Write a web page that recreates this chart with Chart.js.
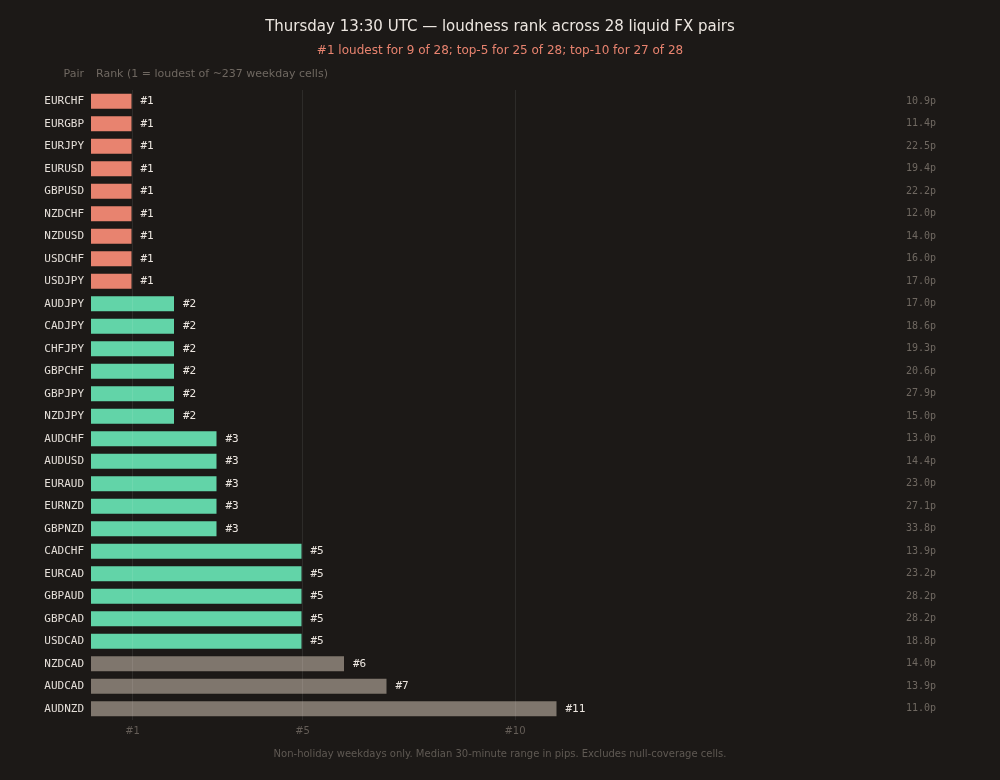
<!DOCTYPE html>
<html>
<head>
<meta charset="utf-8">
<script src="https://cdn.jsdelivr.net/npm/chart.js@4/dist/chart.umd.min.js"></script>
<style>
  html, body { margin: 0; padding: 0; background: #1c1917; }
  #wrap { width: 1000px; height: 780px; }
</style>
</head>
<body>
<div id="wrap"><canvas id="rankChart" width="1000" height="780"></canvas></div>
<script>
// Pairs in display order (top to bottom)
const pairs = [
  'EURCHF', 'EURGBP', 'EURJPY', 'EURUSD', 'GBPUSD', 'NZDCHF', 'NZDUSD', 'USDCHF', 'USDJPY',
  'AUDJPY', 'CADJPY', 'CHFJPY', 'GBPCHF', 'GBPJPY', 'NZDJPY',
  'AUDCHF', 'AUDUSD', 'EURAUD', 'EURNZD', 'GBPNZD',
  'CADCHF', 'EURCAD', 'GBPAUD', 'GBPCAD', 'USDCAD',
  'NZDCAD', 'AUDCAD', 'AUDNZD'
];

// Loudness rank at Thursday 13:30 UTC (1 = loudest)
const ranks = [
  1, 1, 1, 1, 1, 1, 1, 1, 1,
  2, 2, 2, 2, 2, 2,
  3, 3, 3, 3, 3,
  5, 5, 5, 5, 5,
  6, 7, 11
];

// Median 30-minute range in pips
const medianPips = [
  10.9, 11.4, 22.5, 19.4, 22.2, 12.0, 14.0, 16.0, 17.0,
  17.0, 18.6, 19.3, 20.6, 27.9, 15.0,
  13.0, 14.4, 23.0, 27.1, 33.8,
  13.9, 23.2, 28.2, 28.2, 18.8,
  14.0, 13.9, 11.0
];

const xTicks = [1, 5, 10];

const BG = '#1c1917';
const colorFor = (r) => r === 1 ? '#e8836f' : (r <= 5 ? '#62d4a8' : '#7f766d');

// Texts drawn around the plot (title, header, right column, footer)
const decorPlugin = {
  id: 'decor',
  beforeDraw(chart) {
    const ctx = chart.ctx;
    ctx.save();
    ctx.fillStyle = BG;
    ctx.fillRect(0, 0, chart.width, chart.height);
    ctx.restore();
  },
  afterDraw(chart) {
    const ctx = chart.ctx;
    const yScale = chart.scales.y;
    const xScale = chart.scales.x;
    ctx.save();
    ctx.textBaseline = 'middle';

    // title + subtitle
    ctx.textAlign = 'center';
    ctx.fillStyle = '#ece6e0';
    ctx.font = '15px "DejaVu Sans"';
    ctx.fillText('Thursday 13:30 UTC \u2014 loudness rank across 28 liquid FX pairs', 500, 27);
    ctx.fillStyle = '#e8836f';
    ctx.font = '12px "DejaVu Sans"';
    ctx.fillText('#1 loudest for 9 of 28; top-5 for 25 of 28; top-10 for 27 of 28', 500, 51);

    // column header
    ctx.fillStyle = '#6f6861';
    ctx.font = '11px "DejaVu Sans"';
    ctx.textAlign = 'right';
    ctx.fillText('Pair', 84, 74);
    ctx.textAlign = 'left';
    ctx.fillText('Rank (1 = loudest of ~237 weekday cells)', 96, 74);

    // rank labels at bar ends
    ctx.fillStyle = '#ece6e0';
    ctx.font = '11px "DejaVu Sans Mono"';
    ranks.forEach((r, i) => {
      ctx.fillText('#' + r, xScale.getPixelForValue(r) + 8, yScale.getPixelForValue(i));
    });

    // median pips column
    ctx.textAlign = 'right';
    ctx.fillStyle = '#6f6861';
    ctx.font = '10px "DejaVu Sans Mono"';
    medianPips.forEach((p, i) => {
      ctx.fillText(p.toFixed(1) + 'p', 936, yScale.getPixelForValue(i));
    });

    // footer
    ctx.textAlign = 'center';
    ctx.fillStyle = '#5f5953';
    ctx.font = '10px "DejaVu Sans"';
    ctx.fillText('Non-holiday weekdays only. Median 30-minute range in pips. Excludes null-coverage cells.', 500, 754);
    ctx.restore();
  }
};

new Chart(document.getElementById('rankChart'), {
  type: 'bar',
  data: {
    labels: pairs,
    datasets: [{
      data: ranks,
      backgroundColor: ranks.map(colorFor),
      borderColor: 'rgba(28, 25, 23, 0.45)',
      borderWidth: 1,
      borderSkipped: false,
      categoryPercentage: 0.76,
      barPercentage: 1.0
    }]
  },
  options: {
    indexAxis: 'y',
    responsive: false,
    animation: false,
    devicePixelRatio: 1,
    layout: { padding: { top: 90, right: 400, left: 0, bottom: 0 } },
    plugins: {
      legend: { display: false },
      tooltip: { enabled: false }
    },
    scales: {
      x: {
        min: 0,
        max: 12,
        border: { display: false },
        grid: { color: 'rgba(255, 255, 255, 0.08)', drawTicks: false, z: 1 },
        afterBuildTicks: (scale) => { scale.ticks = xTicks.map(v => ({ value: v })); },
        afterFit: (scale) => { scale.height = 60; },
        ticks: {
          padding: 5,
          color: '#645d57',
          font: { family: 'DejaVu Sans', size: 10 },
          callback: (v) => '#' + v
        }
      },
      y: {
        border: { display: false },
        grid: { display: false, drawTicks: false },
        afterFit: (scale) => { scale.width = 90; },
        ticks: {
          padding: 6,
          color: '#e4ded8',
          font: { family: 'DejaVu Sans Mono', size: 11 }
        }
      }
    }
  },
  plugins: [decorPlugin]
});
</script>
</body>
</html>
